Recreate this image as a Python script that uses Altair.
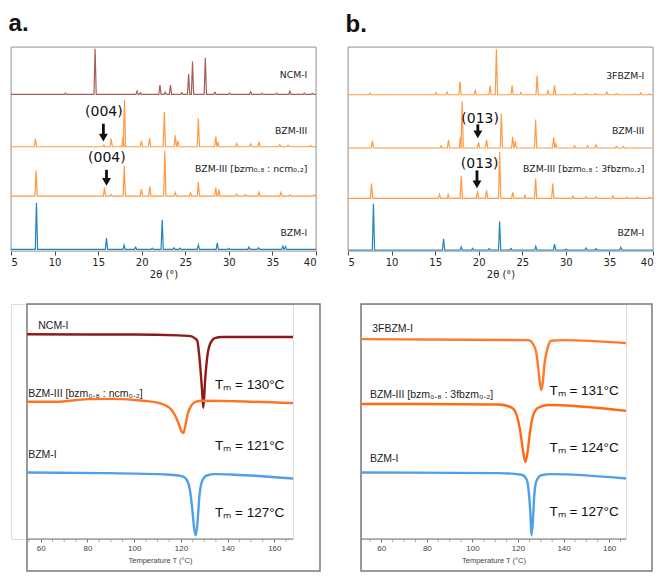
import altair as alt
import pandas as pd

# ---------------- PXRD (top) : peak positions (2θ, °) and heights (a.u.) ----------------
A_NAMES = ["NCM-I", "BZM-III", "BZM-III [bzm₀.₈ : ncm₀.₂]", "BZM-I"]
A_BASE = [76.8, 51.1, 26.9, 0.8]
A_NCM_POS = [11.25, 14.65, 19.47, 19.85, 22.09, 22.7, 23.3, 24.6, 25.38, 25.83, 27.3, 28.4, 30.06, 32.5, 33.8, 35.5, 37.0, 38.65, 39.6]
A_NCM_H = [0.6, 22.3, 1.6, 0.8, 4.5, 1.0, 4.5, 0.8, 9.9, 16.1, 17.9, 1.0, 0.6, 1.3, 0.5, 0.5, 1.5, 0.6, 0.5]
A_B3_POS = [7.8, 15.65, 16.5, 17.85, 18.02, 19.96, 20.9, 22.6, 23.85, 24.15, 26.5, 28.5, 28.75, 30.9, 32.5, 33.46, 35.85, 36.8, 39.4]
A_B3_H = [4.0, 0.8, 4.0, 5.0, 23.0, 2.9, 4.2, 17.0, 5.6, 2.9, 13.9, 5.0, 2.0, 1.6, 1.3, 2.4, 1.0, 0.7, 0.6]
A_MIX_POS = [7.88, 15.73, 16.5, 18.0, 19.96, 20.93, 22.65, 23.85, 25.6, 26.5, 28.5, 28.86, 30.9, 31.9, 33.46, 35.97, 37.0, 39.8]
A_MIX_H = [12.6, 4.2, 0.8, 15.0, 3.4, 4.7, 22.3, 1.8, 1.6, 6.9, 4.2, 3.2, 1.0, 0.8, 1.9, 1.8, 0.6, 0.6]
A_B1_POS = [7.92, 15.96, 17.98, 19.3, 21.2, 22.35, 23.7, 24.4, 26.5, 28.67, 30.0, 32.3, 33.4, 36.2, 36.5]
A_B1_H = [22.9, 5.6, 2.1, 1.1, 0.6, 14.5, 0.8, 0.6, 2.1, 3.2, 0.5, 1.1, 0.8, 1.6, 1.4]
A_COLORS = ["#a65f58", "#ff9a45", "#ff9a45", "#2582bd"]
A_LABEL_Y = [86.3, 58.9, 40.0, 8.9]
A_ANN_TEXT = ["(004)", "(004)"]
A_ANN_X = [15.66, 16.0]
A_ANN_Y = [67.9, 45.4]
A_ARROW_X = [15.6, 15.96]
A_ARROW_TOP = [62.4, 39.8]
A_ARROW_TIP = [54.0, 32.3]

B_NAMES = ["3FBZM-I", "BZM-III", "BZM-III [bzm₀.₈ : 3fbzm₀.₂]", "BZM-I"]
B_BASE = [76.6, 50.5, 25.8, 0.5]
B_3F_POS = [7.5, 15.1, 16.35, 17.85, 19.6, 21.3, 22.03, 23.83, 24.85, 26.7, 27.95, 28.7, 31.0, 32.3, 33.4, 34.7, 35.8, 38.6, 39.6]
B_3F_H = [0.8, 1.0, 1.3, 6.5, 2.0, 4.5, 22.3, 4.5, 1.1, 9.4, 2.0, 4.8, 0.8, 0.6, 0.6, 1.3, 0.6, 0.9, 0.5]
B_B3_POS = [7.8, 15.67, 16.53, 17.9, 18.1, 19.98, 20.9, 22.6, 23.9, 24.2, 26.53, 28.6, 28.85, 31.0, 32.5, 33.45, 35.8, 36.6]
B_B3_H = [3.5, 1.1, 3.9, 5.5, 22.9, 2.7, 4.0, 16.8, 5.5, 3.2, 14.0, 5.2, 2.0, 1.1, 1.1, 1.6, 0.7, 0.7]
B_MIX_POS = [7.7, 15.5, 16.5, 18.0, 19.86, 20.9, 22.4, 23.9, 25.3, 26.53, 28.5, 30.8, 32.3, 33.45, 35.4, 37.0, 38.2, 39.6]
B_MIX_H = [7.3, 1.9, 1.9, 11.1, 3.7, 4.0, 22.6, 2.9, 1.5, 9.7, 7.3, 1.1, 0.8, 0.8, 1.3, 0.6, 0.6, 0.6]
B_B1_POS = [7.92, 15.97, 18.0, 19.3, 21.2, 22.4, 23.7, 26.55, 28.7, 30.0, 32.3, 33.45, 36.3]
B_B1_H = [22.6, 5.5, 1.5, 0.8, 0.6, 14.0, 0.7, 1.8, 2.9, 0.4, 1.0, 0.6, 1.3]
B_COLORS = ["#ff9a45", "#ff9a45", "#ff9a45", "#2582bd"]
B_LABEL_Y = [85.8, 58.9, 40.0, 8.9]
B_ANN_TEXT = ["(013)", "(013)"]
B_ANN_X = [20.16, 20.1]
B_ANN_Y = [64.7, 42.5]
B_ARROW_X = [19.9, 19.8]
B_ARROW_TOP = [62.1, 39.5]
B_ARROW_TIP = [55.6, 31.1]

TICKS_2THETA = [5, 10, 15, 20, 25, 30, 35, 40]

# ---------------- DSC (bottom) : temperature (°C) vs heat flow (a.u.) ----------------
C_NAMES = ["NCM-I", "BZM-III [bzm₀.₈ : ncm₀.₂]", "BZM-I"]
C_NCM_T = [54.1, 80, 100, 119, 124, 126, 127, 127.9, 128.6, 129.2, 129.6, 130.4, 131.3, 132.5, 134.6, 137.4, 168]
C_NCM_Y = [88.7, 88.6, 88.6, 88.3, 88.0, 87.2, 86.3, 80.4, 73.2, 66.0, 61.3, 72.0, 80.4, 85.1, 87.3, 87.7, 87.7]
C_MIX_T = [54.1, 66.5, 80.2, 91.4, 103.9, 110.9, 115.1, 117.2, 119.0, 120.3, 121.0, 121.8, 122.9, 124.3, 126.2, 129.0, 143.0, 168]
C_MIX_Y = [63.5, 63.5, 64.5, 64.6, 63.9, 63.0, 61.3, 58.9, 55.4, 52.4, 51.8, 54.2, 58.9, 61.9, 63.5, 63.9, 63.7, 63.0]
C_B1_T = [54.1, 87.2, 115.1, 120.7, 122.8, 123.9, 124.9, 125.7, 126.4, 127.1, 127.9, 129.0, 131.1, 134.6, 143.0, 168]
C_B1_Y = [37.1, 36.9, 36.3, 35.7, 33.9, 30.4, 23.2, 16.1, 13.7, 18.5, 28.0, 33.7, 36.0, 36.5, 36.3, 34.9]
C_COLORS = ["#8e1a1a", "#ff7324", "#4f9fe9"]
C_RANGE = [54.1, 168]
C_LABEL_X = [58.9, 54.6, 54.6]
C_LABEL_Y = [91.7, 66.3, 43.5]
C_TM_TEXT = ["Tₘ = 130°C", "Tₘ = 121°C", "Tₘ = 127°C"]
C_TM_X = [134.6, 134.6, 134.6]
C_TM_Y = [69.6, 47.0, 22.0]

D_NAMES = ["3FBZM-I", "BZM-III [bzm₀.₈ : 3fbzm₀.₂]", "BZM-I"]
D_3F_T = [51.1, 124.5, 126.6, 128.1, 129.1, 129.8, 130.2, 130.9, 131.6, 132.3, 133.1, 134.5, 140.2, 167.4]
D_3F_Y = [86.9, 86.5, 85.1, 81.5, 74.4, 69.6, 67.9, 70.8, 77.4, 81.0, 83.9, 86.3, 86.5, 85.4]
D_MIX_T = [51.1, 111.6, 117.3, 119.5, 120.9, 121.9, 122.8, 123.3, 124.2, 125.2, 126.6, 128.8, 133.1, 167.4]
D_MIX_Y = [62.7, 62.5, 61.3, 58.3, 53.0, 47.0, 42.3, 41.1, 44.6, 51.8, 58.3, 61.3, 62.3, 60.1]
D_B1_T = [51.1, 111.6, 121.6, 123.8, 124.8, 125.5, 125.9, 126.5, 127.1, 128.1, 130.2, 134.5, 167.4]
D_B1_Y = [37.1, 36.9, 36.3, 34.5, 29.2, 20.8, 13.7, 18.5, 28.0, 33.9, 36.1, 36.5, 34.9]
D_COLORS = ["#ff7a2a", "#ff6a12", "#4f9fe9"]
D_RANGE = [51.1, 167.4]
D_LABEL_X = [56.0, 55.0, 55.0]
D_LABEL_Y = [90.5, 66.0, 42.3]
D_TM_TEXT = ["Tₘ = 131°C", "Tₘ = 124°C", "Tₘ = 127°C"]
D_TM_X = [133.8, 133.8, 133.8]
D_TM_Y = [67.5, 46.4, 22.3]

TEMP_MAJOR = [60, 80, 100, 120, 140, 160]
TEMP_MINOR = [55, 65, 70, 75, 85, 90, 95, 105, 110, 115, 125, 130, 135, 145, 150, 155, 165]

# ---------------- layout constants ----------------
TW, TH = 305, 204          # top plot area
HALF = 0.13                # half base width of a drawn peak (°)
BH, BELOW = 235, 32        # bottom plot area height, frame below axis
SANS = "DejaVu Sans"
ARIAL = "Liberation Sans"


def xrd_table(names, bases, peak_lists, colors):
    rows = []
    for k, (name, base, (pos, hts), col) in enumerate(zip(names, bases, peak_lists, colors)):
        pts = [(5.0, base)]
        for p, h in sorted(zip(pos, hts)):
            pts += [(p - HALF, base), (p, base + h), (p + HALF, base)]
        pts.append((40.0, base))
        for i, (x, y) in enumerate(pts):
            rows.append({"trace": f"{k}", "x": x, "y": y, "i": i, "c": col})
    return pd.DataFrame(rows)


def xrd_panel(title, names, bases, peaks, colors, label_y, ann_t, ann_x, ann_y,
              arr_x, arr_top, arr_tip):
    df = xrd_table(names, bases, peaks, colors)
    xs = alt.X("x:Q", scale=alt.Scale(domain=[5, 40], nice=False, zero=False),
               axis=alt.Axis(values=TICKS_2THETA, title="2θ (°)", grid=False, domain=False,
                             labelFont=SANS, labelFontSize=10, labelColor="#222",
                             titleFont=SANS, titleFontSize=10, titleFontWeight="normal",
                             titleColor="#222", tickColor="#444", tickSize=4,
                             labelPadding=2, titlePadding=2))
    ys = alt.Y("y:Q", scale=alt.Scale(domain=[0, 100], nice=False, zero=False), axis=None)
    lines = alt.Chart(df).mark_line(strokeWidth=1.2).encode(
        x=xs, y=ys, detail="trace:N", order="i:Q", color=alt.Color("c:N", scale=None))
    lab = pd.DataFrame({"x": [39.0] * 4, "y": label_y, "t": names})
    labels = alt.Chart(lab).mark_text(align="right", baseline="middle", font=SANS,
                                      fontSize=9.3, color="#222").encode(
        x="x:Q", y="y:Q", text="t:N")
    ann = pd.DataFrame({"x": ann_x, "y": ann_y, "t": ann_t})
    annt = alt.Chart(ann).mark_text(align="center", baseline="middle", font=SANS,
                                    fontSize=14, color="#111").encode(
        x="x:Q", y="y:Q", text="t:N")
    arr = pd.DataFrame({"x": arr_x, "y": arr_top, "y2": [t + 2.5 for t in arr_tip],
                        "yh": [t + 1.6 for t in arr_tip]})
    shaft = alt.Chart(arr).mark_rule(strokeWidth=2.8, color="#111").encode(
        x="x:Q", y="y:Q", y2="y2:Q")
    head = alt.Chart(arr).mark_point(shape="triangle-down", filled=True, size=80,
                                     color="#111", opacity=1).encode(x="x:Q", y="yh:Q")
    frame = alt.Chart(pd.DataFrame({"f": [0]})).mark_rect(
        fillOpacity=0, stroke="#a0a0a0", strokeWidth=1).encode(
        x=alt.value(0), x2=alt.value(TW), y=alt.value(0), y2=alt.value(TH))
    return alt.layer(frame, lines, labels, annt, shaft, head).properties(
        width=TW, height=TH,
        title=alt.TitleParams(title, anchor="start", fontSize=24, fontWeight="bold",
                              font=ARIAL, color="#111", offset=10, dx=0))


def dsc_panel(names, curves, colors, trange, lab_x, lab_y, tm_t, tm_x, tm_y,
              data_w, frame_w, inset):
    lo, hi = trange
    dom_lo = lo - inset * (hi - lo) / data_w
    rows = []
    for k, ((ts, vs), col) in enumerate(zip(curves, colors)):
        for i, (t, v) in enumerate(zip(ts, vs)):
            rows.append({"trace": f"{k}", "x": t, "y": v, "i": i, "c": col})
    df = pd.DataFrame(rows)
    xs = alt.X("x:Q", scale=alt.Scale(domain=[dom_lo, hi], nice=False, zero=False),
               axis=alt.Axis(values=TEMP_MAJOR, title="Temperature T (°C)", grid=False,
                             domain=False, tickColor="#777777", tickSize=3,
                             labelFont=ARIAL, labelFontSize=8, labelColor="#444",
                             titleFont=ARIAL, titleFontSize=7.5, titleFontWeight="normal",
                             titleColor="#444", labelPadding=2, titlePadding=4,
                             titleX=inset + data_w / 2))
    ys = alt.Y("y:Q", scale=alt.Scale(domain=[12.3, 100], nice=False, zero=False), axis=None)
    lines = alt.Chart(df).mark_line(strokeWidth=2.4, interpolate="monotone").encode(
        x=xs, y=ys, detail="trace:N", order="i:Q", color=alt.Color("c:N", scale=None))
    axis_line = alt.Chart(pd.DataFrame({"x": [lo], "x2": [hi]})).mark_rule(
        color="#777777", strokeWidth=1).encode(x="x:Q", x2="x2:Q", y=alt.value(BH))
    minor = alt.Chart(pd.DataFrame({"x": TEMP_MINOR})).mark_tick(
        orient="vertical", color="#888888", thickness=1, size=3).encode(
        x="x:Q", y=alt.value(BH + 1.5))
    lab = pd.DataFrame({"x": lab_x, "y": lab_y, "t": names})
    labels = alt.Chart(lab).mark_text(align="left", baseline="middle", font=ARIAL,
                                      fontSize=10.5, color="#222").encode(
        x="x:Q", y="y:Q", text="t:N")
    tm = pd.DataFrame({"x": tm_x, "y": tm_y, "t": tm_t})
    tmt = alt.Chart(tm).mark_text(align="left", baseline="middle", font=ARIAL,
                                  fontSize=13.5, color="#111").encode(
        x="x:Q", y="y:Q", text="t:N")
    frame = alt.Chart(pd.DataFrame({"f": [0]})).mark_rect(
        fillOpacity=0, stroke="#7a7a7a", strokeWidth=1.5).encode(
        x=alt.value(inset), x2=alt.value(inset + frame_w), y=alt.value(0),
        y2=alt.value(BH + BELOW))
    return alt.layer(frame, lines, axis_line, minor, labels, tmt).properties(
        width=inset + data_w, height=BH)


pa = xrd_panel("a.", A_NAMES, A_BASE,
               [(A_NCM_POS, A_NCM_H), (A_B3_POS, A_B3_H), (A_MIX_POS, A_MIX_H), (A_B1_POS, A_B1_H)],
               A_COLORS, A_LABEL_Y, A_ANN_TEXT, A_ANN_X, A_ANN_Y, A_ARROW_X, A_ARROW_TOP, A_ARROW_TIP)
pb = xrd_panel("b.", B_NAMES, B_BASE,
               [(B_3F_POS, B_3F_H), (B_B3_POS, B_B3_H), (B_MIX_POS, B_MIX_H), (B_B1_POS, B_B1_H)],
               B_COLORS, B_LABEL_Y, B_ANN_TEXT, B_ANN_X, B_ANN_Y, B_ARROW_X, B_ARROW_TOP, B_ARROW_TIP)
pc = dsc_panel(C_NAMES, [(C_NCM_T, C_NCM_Y), (C_MIX_T, C_MIX_Y), (C_B1_T, C_B1_Y)], C_COLORS,
               C_RANGE, C_LABEL_X, C_LABEL_Y, C_TM_TEXT, C_TM_X, C_TM_Y, 266, 293, 16)
pd_ = dsc_panel(D_NAMES, [(D_3F_T, D_3F_Y), (D_MIX_T, D_MIX_Y), (D_B1_T, D_B1_Y)], D_COLORS,
                D_RANGE, D_LABEL_X, D_LABEL_Y, D_TM_TEXT, D_TM_X, D_TM_Y, 265, 291, 0)

top = alt.hconcat(pa, pb, spacing=26)
bottom = alt.hconcat(pc, pd_, spacing=33)
chart = alt.vconcat(top, bottom, spacing=22).properties(
    padding={"left": 0, "right": 0, "top": 3, "bottom": 0}).configure_view(
    stroke="transparent").configure(background="white")

chart.save("out.html", embed_options={"renderer": "svg", "actions": False})
